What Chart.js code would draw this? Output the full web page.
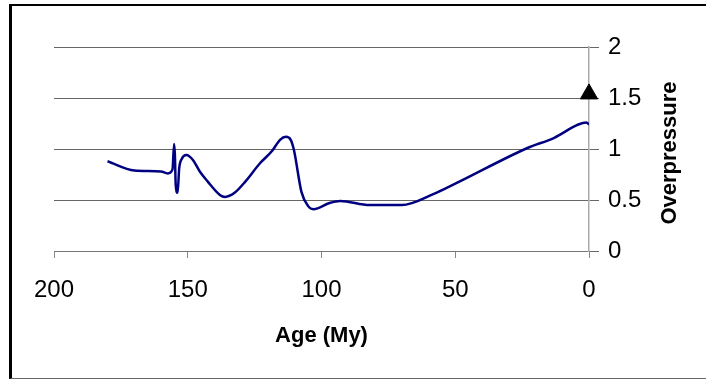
<!DOCTYPE html>
<html>
<head>
<meta charset="utf-8">
<script src="https://cdn.jsdelivr.net/npm/chart.js@4.4.0/dist/chart.umd.min.js"></script>
<style>
  html, body { margin: 0; padding: 0; background: #fff; }
  #wrap { position: relative; width: 706px; height: 379px; overflow: hidden; }
  #frame { position: absolute; left: 9px; top: 4px; width: 720px; height: 372px;
           border-top: 2px solid #000; border-left: 3px solid #000; border-bottom: 1px solid #666;
           pointer-events: none; }
  canvas { position: absolute; left: 0; top: 0; }
</style>
</head>
<body>
<div id="wrap">
  <canvas id="c" width="706" height="379"></canvas>
  <div id="frame"></div>
</div>
<script>
// Age (My) and overpressure
const ages = [180, 170, 160, 157.5, 155.7, 155.1, 154.8, 154.5, 153.8, 153.2, 152.3, 150.5, 148, 145.5, 142.5, 138, 136, 132.5, 128.5, 123, 118.5, 115.5, 113.3, 111.5, 110.3, 107.5, 105, 103, 97, 93, 82, 70, 58, 50, 23, 13, 4, 1, 0];
const overpressure = [0.88, 0.79, 0.78, 0.76, 0.80, 1.05, 0.94, 0.65, 0.57, 0.81, 0.90, 0.94, 0.89, 0.78, 0.68, 0.55, 0.53, 0.57, 0.68, 0.86, 0.98, 1.09, 1.12, 1.09, 0.99, 0.58, 0.44, 0.41, 0.47, 0.49, 0.45, 0.45, 0.56, 0.66, 1.01, 1.11, 1.24, 1.26, 1.24];
const markerAge = [0];
const markerValue = [1.54];
const xTicks = [0, 50, 100, 150, 200];
const yTicks = [0, 0.5, 1, 1.5, 2];
const xTitle = 'Age (My)';
const yTitle = 'Overpressure';

const FONT = '"Liberation Sans", Arial, sans-serif';

const yTitlePlugin = {
  id: 'yTitleUp',
  afterDraw(chart) {
    const ctx = chart.ctx;
    const area = chart.chartArea;
    ctx.save();
    ctx.translate(670, (area.top + area.bottom) / 2 + 4);
    ctx.rotate(-Math.PI / 2);
    ctx.font = 'bold 22px ' + FONT;
    ctx.fillStyle = '#000';
    ctx.textAlign = 'center';
    ctx.textBaseline = 'middle';
    ctx.fillText(yTitle, 0, 0);
    ctx.restore();
  }
};

new Chart(document.getElementById('c'), {
  type: 'scatter',
  data: {
    datasets: [
      {
        data: ages.map((a, i) => ({ x: a, y: overpressure[i] })),
        showLine: true,
        borderColor: '#000080',
        borderWidth: 2.5,
        pointRadius: 0,
        cubicInterpolationMode: 'monotone',
        fill: false
      },
      {
        data: markerAge.map((a, i) => ({ x: a, y: markerValue[i] })),
        pointStyle: 'triangle',
        pointRadius: 10,
        backgroundColor: '#000',
        borderColor: '#000',
        borderWidth: 1,
        clip: false
      }
    ]
  },
  plugins: [yTitlePlugin],
  options: {
    responsive: false,
    animation: false,
    events: [],
    layout: { padding: { left: 54, top: 47, right: 0, bottom: 0 } },
    plugins: { legend: { display: false }, tooltip: { enabled: false } },
    scales: {
      x: {
        type: 'linear',
        reverse: true,
        min: 0, max: 200,
        afterBuildTicks: (s) => { s.ticks = xTicks.map(v => ({ value: v })); },
        afterFit: (s) => { s.height = 128; },
        ticks: { color: '#000', font: { family: FONT, size: 24 }, padding: 18, maxRotation: 0,
                 callback: (v) => String(v) },
        grid: { drawOnChartArea: false, drawTicks: true, tickLength: 7, color: '#888', lineWidth: 1 },
        border: { display: true, color: '#777', width: 1 },
        title: { display: true, text: xTitle, color: '#000', font: { family: FONT, size: 22, weight: 'bold' }, padding: { top: 0, bottom: 30 } }
      },
      y: {
        position: 'right',
        min: 0, max: 2,
        afterBuildTicks: (s) => { s.ticks = yTicks.map(v => ({ value: v })); },
        afterFit: (s) => { s.width = 117; },
        ticks: { color: '#000', font: { family: FONT, size: 24 }, padding: 9,
                 callback: (v) => String(v) },
        grid: { drawOnChartArea: true, drawTicks: true, tickLength: 10, color: '#666', lineWidth: 1 },
        border: { display: true, color: '#aaa', width: 1.5 },
        title: { display: false }
      }
    }
  }
});
</script>
</body>
</html>
